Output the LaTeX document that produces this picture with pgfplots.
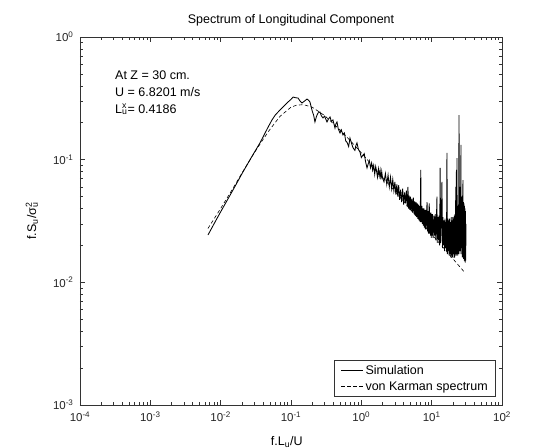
\documentclass[border=0pt]{standalone}
\usepackage{pgfplots}
\pgfplotsset{compat=1.18}
\usepackage{fontspec}
\setmainfont{Liberation Sans}
\begin{document}
\begin{tikzpicture}
\useasboundingbox (-80pt,-43pt) rectangle (462pt,405pt);
\begin{axis}[
  scale only axis, width=422pt, height=368pt,
  xmode=log, ymode=log,
  xmin=1e-4, xmax=1e2, ymin=1e-3, ymax=1,
  xtick={1e-4,1e-3,1e-2,1e-1,1,10,100},
  xticklabels={10\textsuperscript{-4},10\textsuperscript{-3},10\textsuperscript{-2},10\textsuperscript{-1},10\textsuperscript{0},10\textsuperscript{1},10\textsuperscript{2}},
  ytick={1e-3,1e-2,1e-1,1},
  yticklabels={10\textsuperscript{-3},10\textsuperscript{-2},10\textsuperscript{-1},10\textsuperscript{0}},
  tick label style={font=\fontsize{11.5}{13}\selectfont, text=black!85},
  yticklabel style={xshift=-3pt},
  xticklabel style={yshift=-3pt},
  axis line style={black!80, line width=0.8pt},
  major tick length=5pt, minor tick length=3pt,
  tick style={black!80, line width=0.6pt},
  title={Spectrum of Longitudinal Component},
  title style={font=\fontsize{12.5}{14}\selectfont, at={(axis description cs:0.5,1.03)}, anchor=center},
  xlabel={f.L\textsubscript{u}/U},
  xlabel style={font=\fontsize{12.5}{14}\selectfont, at={(axis description cs:0.49,-0.1)}, anchor=center},
  ylabel={f.S\textsubscript{u}/σ\rlap{\textsuperscript{2}}\textsubscript{u}},
  ylabel style={font=\fontsize{12.5}{14}\selectfont, at={(axis description cs:-0.114,0.5)}, anchor=center},
  legend style={at={(axis description cs:0.986,0.022)}, anchor=south east, draw=black!80, line width=0.6pt, font=\fontsize{12.5}{14}\selectfont, cells={anchor=west}, row sep=1.5pt, inner xsep=6pt, inner ysep=3pt},
  legend image code/.code={\draw[#1] (0pt,0pt) -- (22pt,0pt);},
]
\addplot[black, line width=0.85pt] coordinates {
(0.0066,0.0243) (0.0080,0.0298) (0.0098,0.0368) (0.0120,0.0452) (0.0145,0.0548)
(0.0175,0.0665) (0.0205,0.0785) (0.0237,0.0906) (0.0275,0.1050) (0.0320,0.1215)
(0.0362,0.1370) (0.0410,0.1570) (0.0460,0.1790) (0.0537,0.2110) (0.0600,0.2320)
(0.0698,0.2540) (0.0790,0.2730) (0.0906,0.2950) (0.1000,0.3100) (0.1070,0.3240)
(0.1160,0.3200) (0.1260,0.3180) (0.1350,0.3000) (0.1435,0.2900) (0.1550,0.3000)
(0.1690,0.3120) (0.1780,0.3050) (0.1860,0.2950) (0.2000,0.2500) (0.2100,0.2300)
(0.2190,0.2030) (0.2300,0.2250) (0.2420,0.2400)
(0.258,0.245) (0.270,0.228) (0.285,0.219) (0.300,0.226) (0.325,0.203)
(0.340,0.214) (0.359,0.223) (0.375,0.205) (0.395,0.211) (0.422,0.181)
(0.435,0.196) (0.451,0.203) (0.470,0.178) (0.498,0.165) (0.520,0.175)
(0.548,0.159) (0.575,0.165) (0.600,0.142) (0.625,0.139) (0.660,0.128)
(0.690,0.150) (0.720,0.138) (0.762,0.125) (0.810,0.119) (0.840,0.131)
(0.867,0.137) (0.910,0.121) (0.957,0.1156) (1.000,0.104) (1.057,0.109)
(1.100,0.112) (1.150,0.096) (1.205,0.0856)
(1.25,0.092) (1.30,0.098) (1.35,0.086) (1.40,0.094) (1.45,0.082)
(1.50,0.090) (1.55,0.076) (1.60,0.088) (1.65,0.080) (1.70,0.072)
(1.75,0.084) (1.80,0.074) (1.85,0.082) (1.90,0.069) (1.95,0.080)
(2.00,0.071) (2.10,0.066) (2.20,0.077) (2.30,0.063) (2.40,0.075)
(2.50,0.060) (2.60,0.072) (2.70,0.058) (2.80,0.069) (2.90,0.056)
(3.00,0.066) (3.10,0.052) (3.20,0.063) (3.30,0.050) (3.40,0.062)
(3.50,0.047) (3.62,0.057) (3.75,0.045) (3.87,0.058) (4.00,0.043)
(4.12,0.054) (4.25,0.044) (4.37,0.056) (4.50,0.041) (4.60,0.060)
(4.70,0.040) (4.80,0.051) (4.90,0.039) (5.00,0.050) (5.12,0.038)
(5.25,0.048) (5.37,0.037) (5.50,0.049) (5.62,0.036) (5.75,0.046)
(5.87,0.035) (6.00,0.045) (6.12,0.034) (6.25,0.044) (6.37,0.033)
(6.50,0.043) (6.62,0.032) (6.75,0.042) (6.87,0.031) (7.00,0.0824)
(7.10,0.031) (7.25,0.042) (7.37,0.030) (7.50,0.040) (7.62,0.029)
(7.75,0.040) (7.87,0.028) (8.00,0.039) (8.12,0.027) (8.25,0.039)
(8.37,0.027) (8.50,0.038) (8.60,0.045) (8.75,0.026) (8.87,0.038)
(9.00,0.025) (9.12,0.037) (9.25,0.044) (9.37,0.025) (9.50,0.037)
(9.62,0.024) (9.75,0.037) (9.87,0.023) (10.00,0.036) (10.12,0.024)
(10.25,0.036) (10.50,0.023) (10.75,0.035) (11.00,0.024) (11.25,0.036)
(11.50,0.022) (11.90,0.050) (12.00,0.021) (12.25,0.034) (12.50,0.022)
(12.75,0.035) (13.00,0.020) (13.20,0.0856) (13.40,0.021) (13.75,0.033)
(14.00,0.0658) (14.25,0.019) (14.50,0.034) (14.75,0.020) (15.00,0.032)
(15.25,0.018) (15.50,0.033) (15.75,0.019) (16.00,0.031) (16.25,0.018)
(16.50,0.1135) (16.75,0.017) (17.00,0.033) (17.25,0.018) (17.50,0.032)
(17.75,0.0165) (18.00,0.033) (18.25,0.017) (18.50,0.031) (18.75,0.016)
(19.00,0.034) (19.25,0.0165) (19.50,0.032) (19.75,0.016) (20.00,0.034)
(20.25,0.017) (20.50,0.033) (20.75,0.0158) (21.00,0.035) (21.25,0.016)
(21.50,0.036) (21.75,0.017) (22.00,0.060) (22.25,0.0165) (22.50,0.0824)
(22.75,0.017) (22.90,0.103) (23.10,0.018) (23.25,0.040) (23.50,0.0165)
(23.75,0.042) (24.00,0.017) (24.25,0.050) (24.50,0.231) (24.75,0.018)
(25.00,0.055) (25.25,0.017) (25.50,0.060) (25.75,0.018) (26.10,0.132)
(26.25,0.019) (26.50,0.050) (26.75,0.017) (27.00,0.048) (27.25,0.016)
(27.50,0.046) (27.90,0.068) (28.00,0.016) (28.25,0.045) (28.50,0.0155)
(28.75,0.044) (29.00,0.015) (29.25,0.042) (29.50,0.0148) (29.75,0.040)
(30.00,0.0145) (30.25,0.038) (30.50,0.0150) (30.75,0.030)
};
\addlegendentry{Simulation}
\addplot[black, line width=0.6pt, dash pattern=on 3.5pt off 2.5pt] coordinates {
(0.0066,0.0275) (0.01,0.0400) (0.015,0.0585) (0.02,0.0775) (0.03,0.1135)
(0.04,0.146) (0.05,0.176) (0.07,0.226) (0.1,0.268) (0.12,0.278)
(0.15,0.281) (0.2,0.268) (0.3,0.229) (0.5,0.1745) (0.7,0.1424)
(1,0.1136) (1.5,0.0872) (2,0.0722) (3,0.0552) (5,0.0393)
(7,0.0314) (10,0.0247) (15,0.0189) (20,0.0156) (30,0.0119)
};
\addlegendentry{von Karman spectrum}
\node[anchor=north west, align=left, inner sep=0pt, font=\fontsize{12.5}{17}\selectfont] at (rel axis cs:0.083,0.91)
  {At Z = 30 cm.\\ U = 6.8201 m/s\\ L\rlap{\textsuperscript{x}}\textsubscript{u}= 0.4186};
\end{axis}
\end{tikzpicture}
\end{document}
